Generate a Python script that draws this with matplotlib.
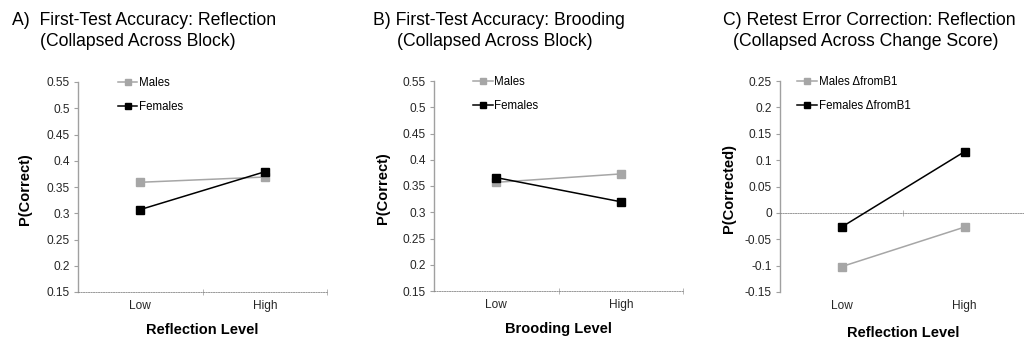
import matplotlib
matplotlib.use("Agg")
import matplotlib.pyplot as plt

plt.rcParams['font.family'] = ['Liberation Sans', 'DejaVu Sans']

categories = ['Low', 'High']

# panel A: first-test accuracy by reflection
a_males = [0.359, 0.369]
a_females = [0.307, 0.379]

# panel B: first-test accuracy by brooding
b_males = [0.357, 0.373]
b_females = [0.366, 0.320]

# panel C: retest error correction by reflection
c_males = [-0.102, -0.027]
c_females = [-0.027, 0.116]

male_col = '#a6a6a6'
female_col = '#000000'
axis_col = '#a0a0a0'
text_col = '#262626'

fig = plt.figure(figsize=(10.24, 3.46), dpi=100)


def draw_panel(rect, males, females, labels, ylim, yticks, base,
               xlabel, ylabel, leg_x, ylab_x, xlab_pad, t1, t2, t1_x, t2_x):
    ax = fig.add_axes(rect)
    x = [1, 2]
    ax.plot(x, males, color=male_col, marker='s', markersize=6,
            linewidth=1.1, label=labels[0], zorder=3)
    ax.plot(x, females, color=female_col, marker='s', markersize=6,
            linewidth=1.1, label=labels[1], zorder=4)

    ax.set_xlim(0.5, 2.5)
    ax.set_ylim(*ylim)
    ax.set_yticks(yticks)
    ax.set_yticklabels(['%g' % t for t in yticks])
    ax.tick_params(axis='y', length=3, color=axis_col, labelsize=8.6,
                   labelcolor=text_col, pad=3)

    for s in ['top', 'right']:
        ax.spines[s].set_visible(False)
    ax.spines['left'].set_color(axis_col)
    ax.spines['left'].set_linewidth(1.0)
    ax.spines['bottom'].set_position(('data', base))
    ax.spines['bottom'].set_linestyle((0, (1.5, 1.5)))
    ax.spines['bottom'].set_color('#888888')
    ax.spines['bottom'].set_linewidth(0.6)

    ax.set_xticks([1.5, 2.5])
    ax.set_xticklabels([])
    ax.tick_params(axis='x', direction='inout', length=4, color='#aaaaaa', width=0.6)

    sec = ax.secondary_xaxis(0.0)
    sec.set_xticks(x)
    sec.set_xticklabels(categories)
    sec.tick_params(length=0, labelsize=8.6, labelcolor=text_col, pad=6)
    sec.spines['bottom'].set_visible(False)
    sec.set_xlabel(xlabel, fontsize=10.5, fontweight='bold', labelpad=xlab_pad)

    ax.set_ylabel(ylabel, fontsize=10.5, fontweight='bold')
    ax.yaxis.set_label_coords(ylab_x, 0.49)

    ax.legend(loc='upper left', bbox_to_anchor=(leg_x, 1.025), frameon=False,
              fontsize=8.3, handlelength=1.7, handletextpad=0.15,
              labelspacing=1.1, borderpad=0, borderaxespad=0,
              markerscale=0.8)

    fig.text(t1_x / 1024, 1 - 12 / 346, t1, fontsize=12.7, va='top', ha='left')
    fig.text(t2_x / 1024, 1 - 33 / 346, t2, fontsize=12.7, va='top', ha='left')
    return ax


ticks_ab = [0.15, 0.2, 0.25, 0.3, 0.35, 0.4, 0.45, 0.5, 0.55]
ticks_c = [-0.15, -0.1, -0.05, 0, 0.05, 0.1, 0.15, 0.2, 0.25]

draw_panel([78 / 1024, 1 - 292 / 346, 249 / 1024, 210 / 346],
           a_males, a_females, ['Males', 'Females'],
           (0.15, 0.55), ticks_ab, 0.15,
           'Reflection Level', 'P(Correct)', 0.16, -0.185, 8,
           'A)  First-Test Accuracy: Reflection', '(Collapsed Across Block)', 12, 40)

draw_panel([434 / 1024, 1 - 291 / 346, 249 / 1024, 210 / 346],
           b_males, b_females, ['Males', 'Females'],
           (0.15, 0.55), ticks_ab, 0.15,
           'Brooding Level', 'P(Correct)', 0.157, -0.177, 8,
           'B) First-Test Accuracy: Brooding', '(Collapsed Across Block)', 373, 397)

draw_panel([780 / 1024, 1 - 292 / 346, 246 / 1024, 211 / 346],
           c_males, c_females, ['Males \u0394fromB1', 'Females \u0394fromB1'],
           (-0.15, 0.25), ticks_c, 0.0,
           'Reflection Level', 'P(Corrected)', 0.07, -0.179, 10,
           'C) Retest Error Correction: Reflection', '(Collapsed Across Change Score)', 723, 733)

fig.savefig('out.png', dpi=100, facecolor='white')
